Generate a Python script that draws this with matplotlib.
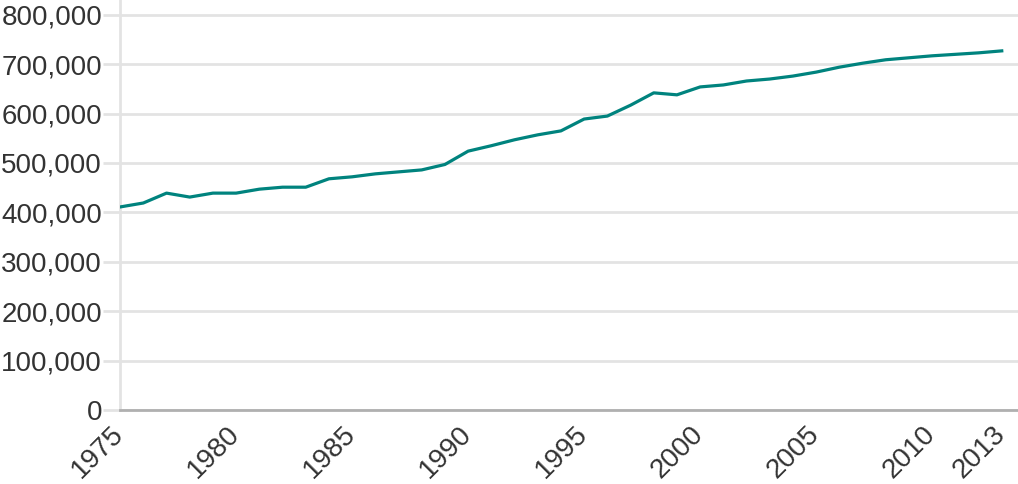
import matplotlib.pyplot as plt
import matplotlib.transforms as mtransforms
from matplotlib.ticker import FuncFormatter

plt.rcParams['font.family'] = ['Liberation Sans', 'DejaVu Sans']

# Data
years = list(range(1975, 2014))
values = [411000, 419000, 439000, 431000, 439000, 439000, 447000, 451000, 451000, 468000,
          472000, 478000, 482000, 486000, 497000, 524000, 535000, 547000, 557000, 565000,
          589000, 595000, 617000, 642000, 638000, 654000, 658000, 666000, 670000, 676000,
          684000, 694000, 702000, 709000, 713000, 717000, 720000, 723000, 727000]
tick_years = [1975, 1980, 1985, 1990, 1995, 2000, 2005, 2010, 2013]
y_ticks = list(range(0, 800001, 100000))

fig = plt.figure(figsize=(10.18, 4.84), dpi=100)
ax = fig.add_axes([0.118, 0.153, 0.882, 0.847])

ax.plot(years, values, color='#00837e', linewidth=2.3, solid_joinstyle='round', zorder=3)

ax.set_xlim(1975, 2013.7)
ax.set_ylim(0, 830000)
ax.set_yticks(y_ticks)
ax.set_xticks(tick_years)
ax.yaxis.set_major_formatter(FuncFormatter(lambda v, p: f'{int(v):,}'))

ax.grid(axis='y', color='#e3e3e3', linewidth=2)
ax.set_axisbelow(True)

for s in ['top', 'right']:
    ax.spines[s].set_visible(False)
ax.spines['left'].set_color('#e3e3e3')
ax.spines['left'].set_linewidth(2)
ax.spines['bottom'].set_color('#b0b0b0')
ax.spines['bottom'].set_linewidth(2)

ax.tick_params(axis='y', length=12, width=2, color='#e3e3e3', labelsize=20,
               labelcolor='#333333', pad=1)
ax.tick_params(axis='x', length=0, labelsize=20, labelcolor='#333333', pad=8)

# nudge rotated year labels left so they sit under their ticks
shift = mtransforms.ScaledTranslation(-0.10, 0, fig.dpi_scale_trans)
for lbl in ax.get_xticklabels():
    lbl.set_rotation(45)
    lbl.set_ha('right')
    lbl.set_rotation_mode('anchor')
    lbl.set_transform(lbl.get_transform() + shift)

fig.savefig('out.png', dpi=100)
